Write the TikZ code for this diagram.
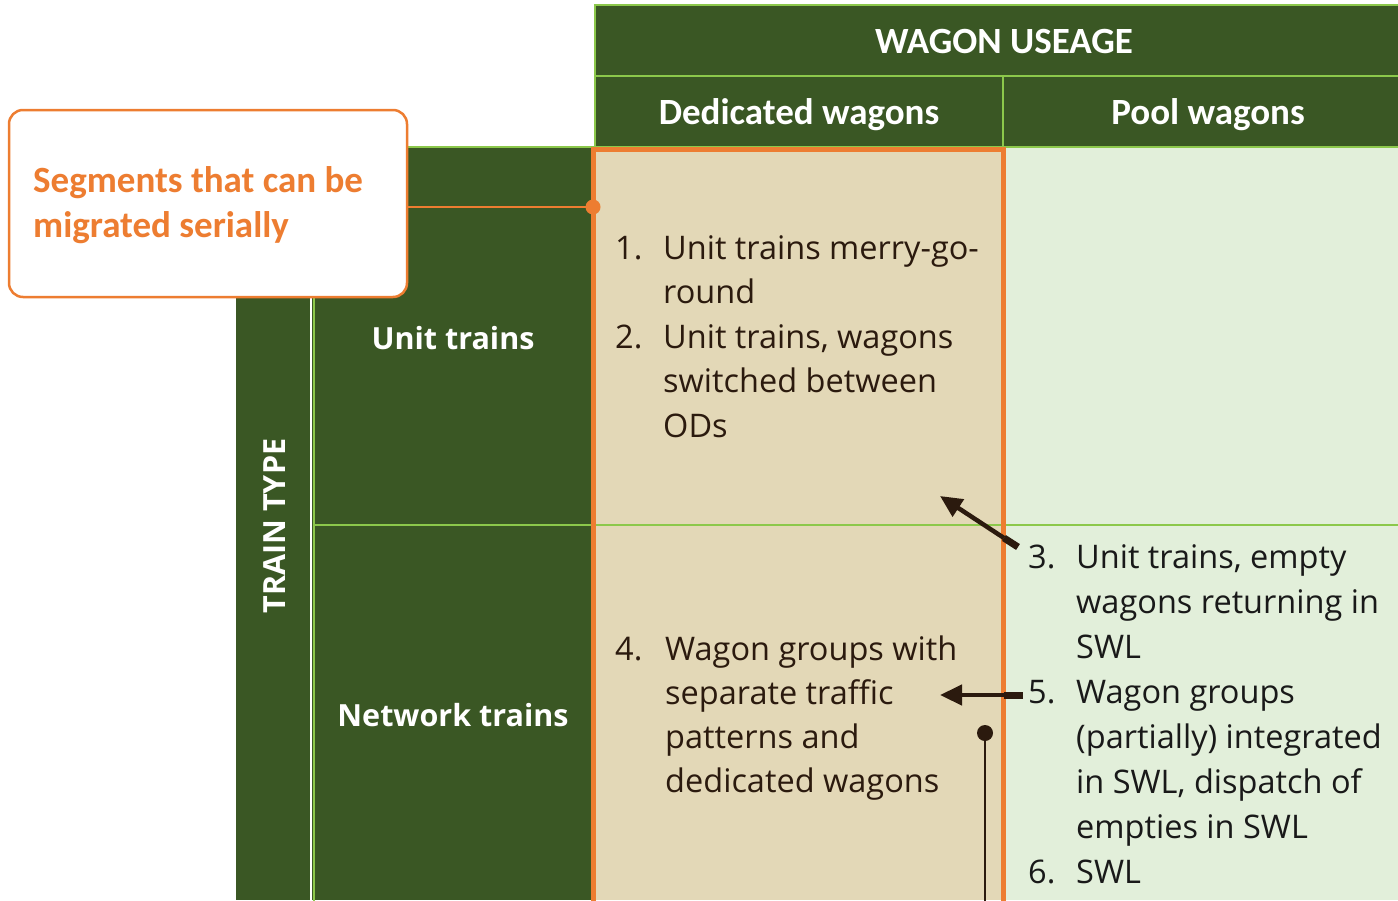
\documentclass[tikz,border=0pt]{standalone}
\usepackage{fontspec}
\setmainfont{Open Sans}
\newfontfamily\headfont{Carlito}
\usetikzlibrary{arrows.meta}

\definecolor{dkgreen}{HTML}{3A5724}
\definecolor{ltgreen}{HTML}{8CC84B}
\definecolor{accent}{HTML}{ED7D31}
\definecolor{tancell}{HTML}{E3D8B7}
\definecolor{poolcell}{HTML}{E2EFDA}
\definecolor{ink}{HTML}{2B1A0E}

\tikzset{
  grid/.style={ltgreen, line width=2.5pt},
  head/.style={anchor=base, inner sep=0pt, text=white, font=\headfont\bfseries\fontsize{37}{40}\selectfont},
  rowlab/.style={anchor=base, inner sep=0pt, text=white, font=\bfseries\fontsize{30.5}{36}\selectfont},
  itemtxt/.style={anchor=base west, inner sep=0pt, font=\fontsize{32.5}{36}\selectfont},
  arr/.style={ink, line width=4.5pt, -{Triangle[length=22pt,width=20pt]}},
  stub/.style={ink, line width=7pt},
}

\begin{document}
\begin{tikzpicture}[x=1pt,y=-1pt]
\useasboundingbox (0,0) rectangle (1398,900);

% cell backgrounds
\fill[dkgreen] (595,5) rectangle (1398,148);
\fill[dkgreen] (236,148) rectangle (593,900);
\fill[tancell] (593,148) rectangle (1003,900);
\fill[poolcell] (1003,148) rectangle (1398,900);

% table rules
\draw[grid] (1402,5) -- (595,5) -- (595,148);
\draw[grid] (595,76) -- (1402,76);
\draw[grid] (1003,76) -- (1003,148);
\draw[grid] (408,147) -- (1402,147);
\draw[grid] (314,148) -- (314,904);
\draw[white, line width=2pt] (311,148) -- (311,904);
\draw[grid] (314,525) -- (1402,525);

% dedicated wagons column frame
\draw[accent, line width=5pt] (593,905) -- (593,149) -- (1003,149) -- (1003,905);

% headers
\node[head] (wu) at (1004,53) {WAGON USEAGE};
\node[head] (dw) at (799,124) {Dedicated wagons};
\node[head] (pw) at (1208,124) {Pool wagons};
\node[rowlab] (ut) at (453,349) {Unit trains};
\node[rowlab] (nt) at (453,726) {Network trains};
\node[anchor=base, inner sep=0pt, rotate=90, text=white, font=\bfseries\fontsize{30.5}{36}\selectfont] (tt) at (285,526) {TRAIN TYPE};

% unit trains / dedicated wagons
\begin{scope}[text=ink]
\node[itemtxt] (n1) at (615,259) {1.};
\foreach \t [count=\k from 0] in {Unit trains merry-go-, round}
  \node[itemtxt] (i1-\k) at (663,259+44.5*\k) {\t};
\node[itemtxt] (n2) at (615,348) {2.};
\foreach \t [count=\k from 0] in {{Unit trains, wagons}, switched between, ODs}
  \node[itemtxt] (i2-\k) at (663,348+44.5*\k) {\t};
\node[itemtxt] (n4) at (615,660) {4.};
\foreach \t [count=\k from 0] in {Wagon groups with, separate traffic, patterns and, dedicated wagons}
  \node[itemtxt] (i4-\k) at (665,660+44*\k) {\t};
\end{scope}

% pool wagons column
\begin{scope}[text=black!90]
\node[itemtxt] (n3) at (1028,568) {3.};
\foreach \t [count=\k from 0] in {{Unit trains, empty}, wagons returning in, SWL}
  \node[itemtxt] (i3-\k) at (1076,568+45*\k) {\t};
\node[itemtxt] (n5) at (1028,703) {5.};
\foreach \t [count=\k from 0] in {Wagon groups, (partially) integrated, {in SWL, dispatch of}, empties in SWL}
  \node[itemtxt] (i5-\k) at (1076,703+45*\k) {\t};
\node[itemtxt] (n6) at (1028,883) {6.};
\node[itemtxt] (i6-0) at (1076,883) {SWL};
\end{scope}

% connectors between the columns
\coordinate (a3t) at (1018,547);
\coordinate (a3s) at (1004,538);
\coordinate (a3e) at (940,496);
\draw[stub] (a3t) -- (a3s);
\draw[arr] (a3s) -- (a3e);
\coordinate (a5t) at (1023,695);
\coordinate (a5s) at (1004,695);
\coordinate (a5e) at (940,695);
\draw[stub] (a5t) -- (a5s);
\draw[arr] (a5s) -- (a5e);
\coordinate (p4) at (985,733);
\coordinate (p4end) at (985,904);
\fill[ink] (p4) circle (8);
\draw[ink, line width=2pt] (p4) -- (p4end);

% callout
\node[draw=accent, line width=2.5pt, fill=white, rounded corners=14pt,
      minimum width=398pt, minimum height=187pt, inner sep=0pt] (call) at (208,203.5) {};
\node[anchor=base west, inner sep=0pt, text=accent,
      font=\headfont\bfseries\fontsize{37}{44}\selectfont] (callt) at (33,192) {Segments that can be};
\node[anchor=base west, inner sep=0pt, text=accent,
      font=\headfont\bfseries\fontsize{37}{44}\selectfont] (callt2) at (33,237) {migrated serially};
\coordinate (dot) at (593,207);
\draw[accent, line width=2pt] (call.east |- dot) -- (dot);
\fill[accent] (dot) circle (7.5);
\end{tikzpicture}
\end{document}
